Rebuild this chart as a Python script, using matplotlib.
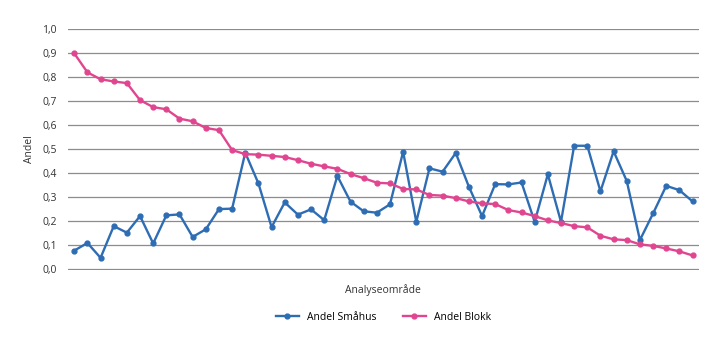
import numpy as np
import matplotlib.pyplot as plt

plt.rcParams['font.family'] = ['Open Sans', 'DejaVu Sans']

smahus = [0.078, 0.110, 0.048, 0.180, 0.153, 0.222, 0.108, 0.225, 0.229, 0.135,
          0.167, 0.251, 0.253, 0.486, 0.358, 0.176, 0.279, 0.228, 0.250, 0.205,
          0.389, 0.282, 0.242, 0.236, 0.271, 0.490, 0.198, 0.421, 0.407, 0.485,
          0.344, 0.222, 0.355, 0.354, 0.362, 0.198, 0.396, 0.198, 0.515, 0.515,
          0.325, 0.492, 0.368, 0.122, 0.233, 0.348, 0.330, 0.283]
blokk = [0.900, 0.821, 0.792, 0.783, 0.776, 0.705, 0.676, 0.667, 0.628, 0.617,
         0.589, 0.580, 0.497, 0.480, 0.478, 0.473, 0.468, 0.455, 0.440, 0.429,
         0.419, 0.397, 0.380, 0.361, 0.358, 0.335, 0.333, 0.310, 0.307, 0.297,
         0.283, 0.275, 0.272, 0.247, 0.237, 0.222, 0.204, 0.193, 0.180, 0.175,
         0.140, 0.125, 0.122, 0.104, 0.098, 0.087, 0.075, 0.058]
yticks = np.arange(0, 1.01, 0.1)

blue = '#2E6DB4'
pink = '#E0468F'

fig = plt.figure(figsize=(7.2, 3.41), dpi=100)
ax = fig.add_axes([0.094, 0.208, 0.877, 0.708])
x = np.arange(len(smahus))

ax.plot(x, smahus, color=blue, lw=1.7, marker='o', ms=3.5, label='Andel Småhus', zorder=3)
ax.plot(x, blokk, color=pink, lw=1.7, marker='o', ms=3.5, label='Andel Blokk', zorder=3)

ax.set_xlim(-0.5, len(smahus) - 0.5)
ax.set_ylim(-0.003, 1.003)
ax.set_yticks(yticks)
ax.set_yticklabels([f'{v:.1f}'.replace('.', ',') for v in yticks], fontsize=7.5, color='#333333')
ax.set_xticks([])
ax.grid(axis='y', color='#8c8c8c', lw=0.9)
ax.set_axisbelow(True)
for s in ax.spines.values():
    s.set_visible(False)
ax.tick_params(axis='y', length=0, pad=8)

ax.set_ylabel('Andel', fontsize=7.5, color='#333333', labelpad=5)
ax.set_xlabel('Analyseområde', fontsize=7.5, color='#333333', labelpad=10)
ax.legend(loc='upper center', bbox_to_anchor=(0.5, -0.135), ncol=2, frameon=False,
          fontsize=7.5, handlelength=2.2, columnspacing=2.5)

fig.savefig('out.png', dpi=100)
